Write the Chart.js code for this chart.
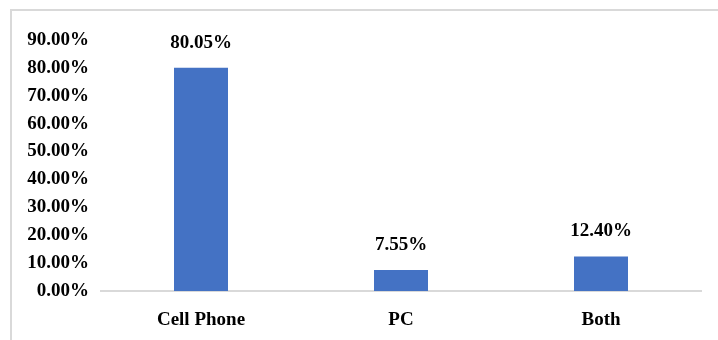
<!DOCTYPE html>
<html>
<head>
<meta charset="utf-8">
<script src="https://cdn.jsdelivr.net/npm/chart.js@4"></script>
<style>
  html, body { margin: 0; padding: 0; background: #fff; }
  #wrap { width: 718px; height: 340px; position: relative; }
</style>
</head>
<body>
<div id="wrap"><canvas id="barChart" width="718" height="340"></canvas></div>
<script>
const categories = ["Cell Phone", "PC", "Both"];
const values = [80.05, 7.55, 12.4];
const tickStep = 10;
const tickMax = 90;

const FONT = "'Liberation Serif', 'Times New Roman', serif";

// frame around the chart, like the exported picture
const framePlugin = {
  id: "frame",
  beforeDraw(chart) {
    const ctx = chart.ctx;
    ctx.save();
    ctx.fillStyle = "#fff";
    ctx.fillRect(0, 0, chart.width, chart.height);
    ctx.strokeStyle = "#d9d9d9";
    ctx.lineWidth = 2;
    ctx.strokeRect(11, 10, chart.width + 10, chart.height + 10);
    ctx.restore();
  },
};

// value labels above each bar
const valueLabels = {
  id: "valueLabels",
  afterDatasetsDraw(chart) {
    const ctx = chart.ctx;
    const meta = chart.getDatasetMeta(0);
    ctx.save();
    ctx.font = "bold 19px " + FONT;
    ctx.fillStyle = "#000";
    ctx.textAlign = "center";
    ctx.textBaseline = "middle";
    meta.data.forEach(function (bar, i) {
      ctx.fillText(values[i].toFixed(2) + "%", bar.x, bar.y - 25);
    });
    ctx.restore();
  },
};

new Chart(document.getElementById("barChart"), {
  type: "bar",
  data: {
    labels: categories,
    datasets: [
      {
        data: values,
        backgroundColor: "#4472C4",
        borderWidth: 0,
        barPercentage: 0.54,
        categoryPercentage: 0.5,
      },
    ],
  },
  options: {
    responsive: false,
    animation: false,
    layout: { padding: { left: 0, right: 17, top: 40, bottom: 0 } },
    plugins: {
      legend: { display: false },
      tooltip: { enabled: false },
    },
    scales: {
      x: {
        grid: { display: false },
        border: { display: true, color: "#d9d9d9", width: 2 },
        ticks: {
          color: "#000",
          padding: 10,
          font: { family: FONT, size: 19, weight: "bold" },
        },
        afterFit(scale) {
          scale.height = 49;
        },
      },
      y: {
        min: 0,
        max: tickMax,
        grid: { display: false },
        border: { display: false },
        ticks: {
          stepSize: tickStep,
          color: "#000",
          padding: 4,
          font: { family: FONT, size: 19, weight: "bold" },
          callback: (v) => v.toFixed(2) + "%",
        },
        afterFit(scale) {
          scale.width = 101;
        },
      },
    },
  },
  plugins: [framePlugin, valueLabels],
});
</script>
</body>
</html>
